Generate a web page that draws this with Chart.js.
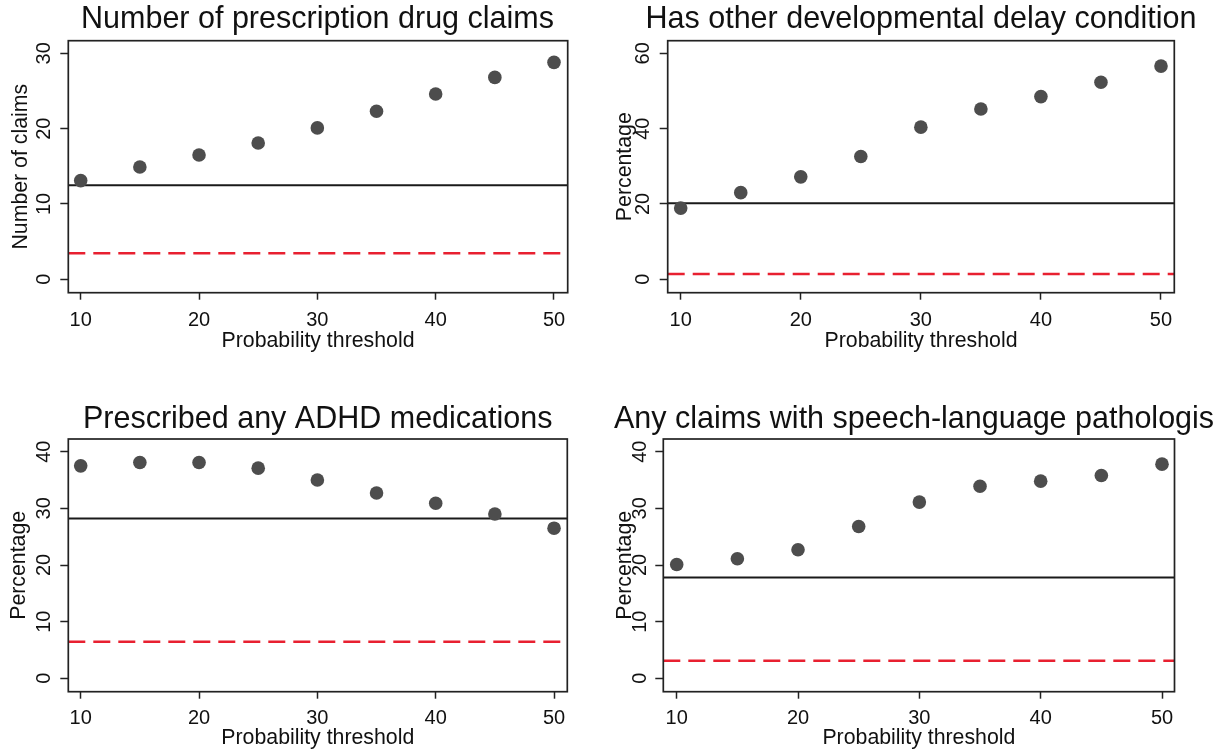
<!DOCTYPE html>
<html><head><meta charset="utf-8">
<script src="https://cdn.jsdelivr.net/npm/chart.js@4/dist/chart.umd.min.js"></script>
<style>
html,body{margin:0;padding:0;background:#fff;overflow:hidden;width:1228px;height:753px}
canvas{position:absolute;left:0;top:0}
</style></head><body>
<canvas id="c0" width="1228" height="753"></canvas>
<canvas id="c1" width="1228" height="753"></canvas>
<canvas id="c2" width="1228" height="753"></canvas>
<canvas id="c3" width="1228" height="753"></canvas>
<script>
// ---------------- data ----------------
const thresholds = [10, 15, 20, 25, 30, 35, 40, 45, 50];
const xTickValues = [10, 20, 30, 40, 50];

const rxClaims  = [13.1, 14.9, 16.5, 18.1, 20.1, 22.3, 24.6, 26.8, 28.8];
const devDelay  = [18.9, 23.0, 27.2, 32.6, 40.4, 45.2, 48.5, 52.3, 56.6];
const adhdMeds  = [37.5, 38.1, 38.1, 37.1, 35.0, 32.7, 30.9, 29.0, 26.5];
const slpClaims = [20.1, 21.1, 22.7, 26.8, 31.1, 33.9, 34.8, 35.8, 37.8];

const solidRef  = [12.5, 20.2, 28.2, 17.8];   // black solid reference line
const dashedRef = [3.45, 1.4, 6.45, 3.1];     // red dashed reference line

const yTicks1 = [0, 10, 20, 30];
const yTicks2 = [0, 20, 40, 60];
const yTicks3 = [0, 10, 20, 30, 40];
const yTicks4 = [0, 10, 20, 30, 40];

const panelTitles = [
  'Number of prescription drug claims',
  'Has other developmental delay condition',
  'Prescribed any ADHD medications',
  'Any claims with speech-language pathologis'
];
const yAxisTitles = ['Number of claims', 'Percentage', 'Percentage', 'Percentage'];
const xAxisTitle = 'Probability threshold';

// ---------------- layout / style ----------------
const FONT = "'Liberation Sans', Arial, Helvetica, sans-serif";
const TITLE_SIZE = 30.5, AXT_SIZE = 21.3, TICK_SIZE = 20;
const X_TL = 7, Y_TL = 8;
const W = 1228, H = 753;

const geom = [
  {L:68.3, R:567.7, T:40.7, B:292.7, xMin:8.952, xMax:51.158, yMin:-1.779, yMax:31.673,
   titleCx:317.5, titleMid:19.5, yTitleCx:21, yTickCx:44.2, xTickOff:27.8, xTitleOff:48, padL:10.5},
  {L:667.7, R:1174.3, T:40.7, B:292.7, xMin:8.917, xMax:51.108, yMin:-3.557, yMax:63.345,
   titleCx:921, titleMid:19.5, yTitleCx:625.5, yTickCx:643.3, xTickOff:27.8, xTitleOff:48, padL:615},
  {L:68.3, R:567.3, T:439, B:691.7, xMin:8.952, xMax:51.12, yMin:-2.365, yMax:42.242,
   titleCx:317.7, titleMid:419.4, yTitleCx:19.5, yTickCx:44.2, xTickOff:27.1, xTitleOff:46.5, padL:9},
  {L:663.3, R:1174.5, T:439, B:691.7, xMin:8.895, xMax:51.03, yMin:-2.365, yMax:42.242,
   titleCx:914, titleMid:419.4, yTitleCx:625, yTickCx:640.8, xTickOff:27.1, xTitleOff:46.5, padL:605}
];

const frame = {
  id: 'frame',
  afterDatasetsDraw(chart) {
    const {ctx, chartArea: a} = chart;
    ctx.save();
    ctx.strokeStyle = '#222';
    ctx.lineWidth = 1.7;
    ctx.strokeRect(a.left, a.top, a.right - a.left, a.bottom - a.top);
    ctx.restore();
  }
};

const mctx = document.createElement('canvas').getContext('2d');
mctx.font = TICK_SIZE + 'px ' + FONT;

function makeChart(i, values, yTicks) {
  const g = geom[i];
  const titleLH = TITLE_SIZE * 1.2;
  const padTop = g.titleMid - titleLH / 2 - 1;
  const titlePadBottom = g.T - g.titleMid - titleLH / 2;
  const xScaleH = g.xTitleOff + AXT_SIZE * 1.2 / 2;
  const padBottom = H - g.B - xScaleH;
  const padRight = g.padL + W - 2 * g.titleCx;
  const yW = g.L - g.padL;
  const yRW = W - padRight - g.R;
  const xTickPad = g.xTickOff - X_TL - TICK_SIZE * 1.2 / 2;
  const widest = Math.max(...yTicks.map(v => mctx.measureText(String(v)).width));
  const yTickPad = g.L - g.yTickCx - Y_TL - widest / 2;
  const yTitlePadTop = g.yTitleCx - g.padL - AXT_SIZE / 2;

  const pts = thresholds.map((t, k) => ({x: t, y: values[k]}));
  const solid = [{x: g.xMin, y: solidRef[i]}, {x: g.xMax, y: solidRef[i]}];
  const dashed = [{x: g.xMin, y: dashedRef[i]}, {x: g.xMax, y: dashedRef[i]}];

  new Chart(document.getElementById('c' + i), {
    type: 'scatter',
    data: {
      datasets: [
        {data: pts, pointRadius: 6.8, pointHoverRadius: 6.8, backgroundColor: '#4d4d4d', borderWidth: 0, pointBorderWidth: 0},
        {data: solid, showLine: true, pointRadius: 0, borderColor: '#1a1a1a', borderWidth: 2},
        {data: dashed, showLine: true, pointRadius: 0, borderColor: 'rgb(232,32,48)', borderWidth: 2.4, borderDash: [17, 8]}
      ]
    },
    options: {
      responsive: false,
      animation: false,
      events: [],
      layout: {padding: {left: g.padL, right: padRight, top: padTop, bottom: padBottom}},
      plugins: {
        legend: {display: false},
        tooltip: {enabled: false},
        title: {
          display: true, text: panelTitles[i], color: '#111', align: 'center',
          font: {family: FONT, size: TITLE_SIZE, weight: 'normal', lineHeight: 1.2},
          padding: {top: 1, bottom: titlePadBottom}
        }
      },
      scales: {
        x: {
          type: 'linear', position: 'bottom', min: g.xMin, max: g.xMax,
          afterBuildTicks: s => { s.ticks = xTickValues.map(v => ({value: v})); },
          afterFit: s => { s.height = xScaleH; },
          ticks: {color: '#111', font: {family: FONT, size: TICK_SIZE}, padding: xTickPad, maxRotation: 0, autoSkip: false},
          grid: {display: true, drawOnChartArea: false, drawTicks: true, tickLength: X_TL, tickWidth: 1.5, tickColor: '#222', color: '#222'},
          border: {display: false},
          title: {display: true, text: xAxisTitle, color: '#111', font: {family: FONT, size: AXT_SIZE, lineHeight: 1.2}, padding: {top: 0, bottom: 0}}
        },
        y: {
          type: 'linear', position: 'left', min: g.yMin, max: g.yMax,
          afterBuildTicks: s => { s.ticks = yTicks.map(v => ({value: v})); },
          afterFit: s => { s.width = yW; },
          ticks: {color: '#111', font: {family: FONT, size: TICK_SIZE}, padding: yTickPad, minRotation: 90, maxRotation: 90, crossAlign: 'center', autoSkip: false},
          grid: {display: true, drawOnChartArea: false, drawTicks: true, tickLength: Y_TL, tickWidth: 1.5, tickColor: '#222', color: '#222'},
          border: {display: false},
          title: {display: true, text: yAxisTitles[i], color: '#111', font: {family: FONT, size: AXT_SIZE, lineHeight: 1}, padding: {top: yTitlePadTop, bottom: 0}}
        },
        yR: {
          type: 'linear', position: 'right', display: true,
          afterFit: s => { s.width = yRW; },
          ticks: {display: false},
          grid: {display: false},
          border: {display: false}
        }
      }
    },
    plugins: [frame]
  });
}

makeChart(0, rxClaims, yTicks1);
makeChart(1, devDelay, yTicks2);
makeChart(2, adhdMeds, yTicks3);
makeChart(3, slpClaims, yTicks4);
</script>
</body></html>
